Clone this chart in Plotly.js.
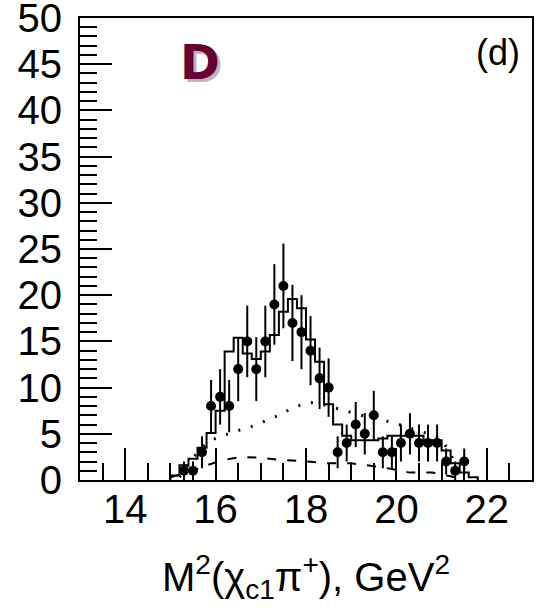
<!DOCTYPE html>
<html>
<head>
<meta charset="utf-8">
<script src="https://cdn.plot.ly/plotly-3.0.1.min.js"></script>
<style>
html,body{margin:0;padding:0;background:#fff;}
#chart{width:540px;height:612px;}
</style>
</head>
<body>
<div id="chart"></div>
<script>
// Data points (bin centres, counts, Poisson errors)
const dataX = [15.3,15.5,15.7,15.9,16.1,16.3,16.5,16.7,16.9,17.1,17.3,17.5,17.7,17.9,18.1,18.3,18.5,18.7,18.9,19.1,19.3,19.5,19.7,19.9,20.1,20.3,20.5,20.7,20.9,21.1,21.3,21.5];
const dataY = [1,1,3,8,9,8,12,15,12,15,19,21,17,16,14,11,10,3,4,6,5,7,3,3,4,5,4,4,4,2,1,2];
const dataErr = [1,1,1.73,2.83,3,2.83,3.46,3.87,3.46,3.87,4.36,4.58,4.12,4,3.74,3.32,3.16,1.73,2,2.45,2.24,2.65,1.73,1.73,2,2.24,2,2,2,1.41,1,1.41];

// Total fit histogram (bin edges and contents)
const histEdges = [15.0,15.2,15.4,15.6,15.8,16.0,16.2,16.4,16.6,16.8,17.0,17.2,17.4,17.6,17.8,18.0,18.2,18.4,18.6,18.8,19.0,19.2,19.4,19.6,19.8,20.0,20.2,20.4,20.6,20.8,21.0,21.2,21.4,21.6,21.8];
const histVals = [0.5,1.6,2.3,3.5,5.1,7.5,13.9,15.4,13.7,13.1,13.9,15.7,18.2,19.6,18.6,15.2,12.8,8.2,6.0,4.8,4.3,4.3,4.3,4.5,4.8,4.8,4.8,4.8,4.3,4.3,3.2,1.8,0.8,0.3];

// Dotted component
const dotX = [15.2,15.5,15.8,16.0,16.4,16.8,17.1,17.4,17.7,18.0,18.2,18.5,18.8,19.0,19.3,19.7,20.0,20.2,20.5,20.8,21.0,21.2,21.4];
const dotY = [0.3,2.4,4.0,4.5,5.2,5.8,6.4,7.0,7.8,8.3,8.4,8.0,7.6,7.3,6.9,6.5,6.1,5.8,5.3,4.9,4.4,2.8,0.6];

// Dashed component
const dashX = [15.0,15.5,15.8,16.2,16.6,17.0,17.4,17.8,18.0,18.5,19.0,19.5,19.9,20.3,20.8,21.2,21.5];
const dashY = [0.3,1.0,1.6,2.2,2.5,2.4,2.2,2.1,2.0,1.8,1.8,1.5,1.2,0.8,0.8,0.4,0.1];

const xTicks = [14,16,18,20,22];
const yTicks = [0,5,10,15,20,25,30,35,40,45,50];

// step construction
const stepX = [histEdges[0]].concat(histEdges);
const stepY = [0].concat(histVals, [0]);

const traces = [
  {x: stepX, y: stepY, mode:'lines', line:{shape:'hv', color:'#000', width:2}, hoverinfo:'skip'},
  {x: dotX, y: dotY, mode:'lines', line:{color:'#000', width:3, dash:'2px,11px'}, hoverinfo:'skip'},
  {x: dashX, y: dashY, mode:'lines', line:{color:'#000', width:2, dash:'9px,11px'}, hoverinfo:'skip'},
  {x: dataX, y: dataY, mode:'markers', marker:{color:'#000', size:10},
   error_y:{type:'data', array:dataErr, visible:true, color:'#000', thickness:2, width:0}}
];

const font = 'Liberation Sans, Arial, sans-serif';
const layout = {
  width:540, height:612,
  margin:{l:80, r:8, t:18, b:132},
  paper_bgcolor:'#fff', plot_bgcolor:'#fff',
  showlegend:false,
  font:{family:font, color:'#000'},
  xaxis:{
    range:[13,23], showgrid:false, zeroline:false,
    showline:true, linecolor:'#000', linewidth:2, mirror:true,
    ticks:'inside', ticklen:32, tickwidth:2, tickcolor:'#000',
    tickvals:xTicks, ticktext:xTicks.map(String),
    tickfont:{family:font, size:40}, ticklabelstandoff:-7,
    minor:{ticks:'inside', ticklen:17, tickwidth:2, dtick:0.5, tick0:13, showgrid:false, tickcolor:'#000'},
    title:{text:'M<sup>2</sup>(χ<sub>c1</sub>π<sup>+</sup>), GeV<sup>2</sup>', font:{family:font, size:40}, standoff:33}
  },
  yaxis:{
    range:[0,50], showgrid:false, zeroline:false,
    showline:true, linecolor:'#000', linewidth:2, mirror:true,
    ticks:'inside', ticklen:32, tickwidth:2, tickcolor:'#000',
    tickvals:yTicks, ticktext:yTicks.map(String),
    tickfont:{family:font, size:40}, ticklabelstandoff:8, ticklabeloverflow:'allow',
    minor:{ticks:'inside', ticklen:17, tickwidth:2, dtick:1, tick0:0, showgrid:false, tickcolor:'#000'}
  },
  annotations:[
    {xref:'paper', yref:'paper', x:0.925, y:0.925, text:'(d)', showarrow:false, font:{family:font, size:36}, xanchor:'center', yanchor:'middle'},
    {xref:'x', yref:'y', x:15.65, y:45.2, text:'<b>D</b>', showarrow:false, font:{family:'DejaVu Sans, sans-serif', size:48, color:'#b8b8b8'}, xanchor:'center', yanchor:'middle', xshift:3, yshift:-3},
    {xref:'x', yref:'y', x:15.65, y:45.2, text:'<b>D</b>', showarrow:false, font:{family:'DejaVu Sans, sans-serif', size:48, color:'#660033'}, xanchor:'center', yanchor:'middle'}
  ]
};

Plotly.newPlot('chart', traces, layout, {staticPlot:true, displayModeBar:false});
</script>
</body>
</html>
